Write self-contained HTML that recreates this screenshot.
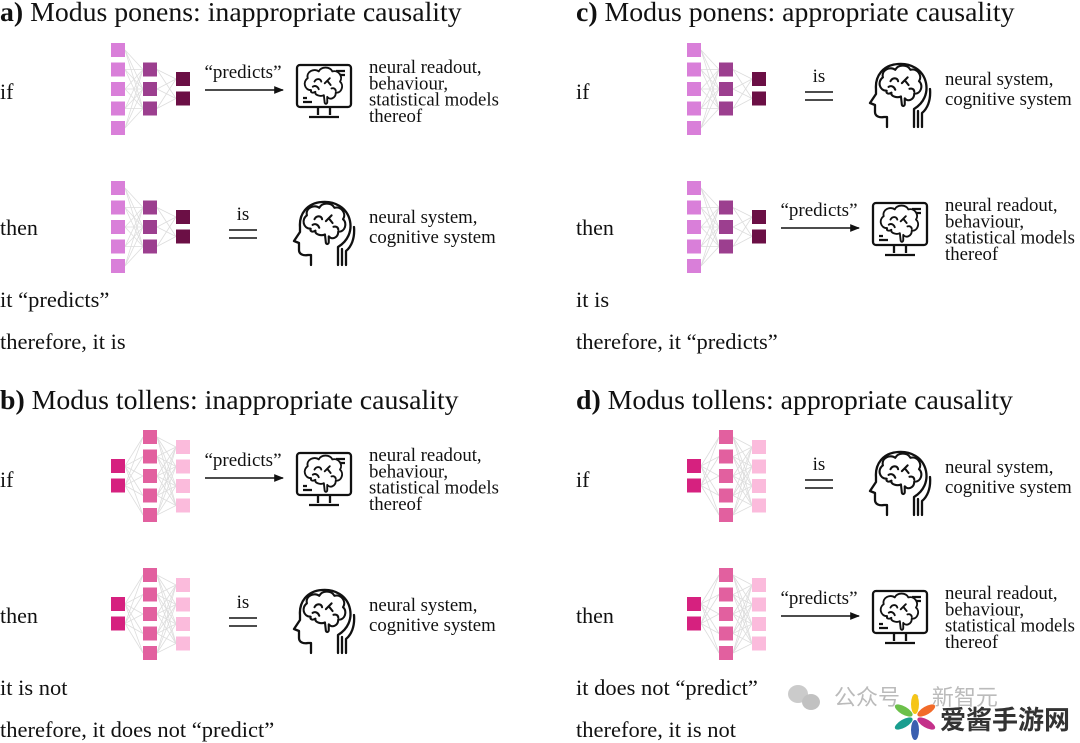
<!DOCTYPE html>
<html><head><meta charset="utf-8">
<style>
html,body{margin:0;padding:0;background:#fff;}
svg{display:block;font-family:"Liberation Serif",serif;}
</style></head>
<body>
<svg id="s" width="1080" height="743" viewBox="0 0 1080 743" xmlns="http://www.w3.org/2000/svg">
<defs>
<marker id="ar" viewBox="0 0 10 10" refX="9" refY="5" markerWidth="7" markerHeight="7" orient="auto"><path d="M0,1 L10,5 L0,9 z" fill="#111"/></marker>
<g id="brain" fill="none" stroke="#111" stroke-width="2.2" stroke-linecap="round" stroke-linejoin="round">
<path d="M-14,6 C-22,6 -24,-4 -18,-8 C-20,-16 -10,-20 -5,-16 C-2,-22 8,-22 11,-16 C18,-18 24,-10 20,-4 C25,0 22,10 15,9 C15,16 8,18 5,14 L5,20 C5,22 3,23 2,21 L1,12 C-3,14 -10,12 -9,8 C-12,10 -15,9 -14,6 Z"/>
<path d="M-10,-4 C-8,-8 -3,-8 -2,-4 M2,-2 L8,-8 M5,-5 L9,0 M-12,2 C-9,0 -6,2 -5,5 M10,4 C13,3 15,5 15,7"/>
</g>
<g id="monitor" fill="none" stroke="#111" stroke-width="2.3" stroke-linejoin="round">
<rect x="-27" y="-27" width="54" height="42" rx="3"/>
<path d="M-6,15 L-6,23 M6,15 L6,23 M-15,25 L15,25"/>
<path d="M12,-21 L21,-21 M16,-17 L21,-17 M-21,6 L-17,6 M-21,10 L-12,10"/>
<use href="#brain" transform="translate(-1,-7) scale(0.85)"/>
</g>
<g id="head" fill="none" stroke="#111" stroke-width="2.3" stroke-linejoin="round" stroke-linecap="round">
<path d="M14,32 L14,14 C24,8 28,-2 26,-12 C23,-26 10,-32 -2,-31 C-17,-30 -25,-19 -24,-6 L-24,-1 L-30,8 L-25,10 L-25,17 C-25,21 -21,23 -16,22 L-13,22 L-13,32"/>
<path d="M18,32 L18,16 M22,32 L22,18 C27,14 31,6 30,-6"/>
<use href="#brain" transform="translate(0,-10) scale(0.95)"/>
</g>
</defs>
<g id="root"></g>
</svg>
<script>
let h='';
function T(x,y,s,size,extra){h+=`<text x="${x}" y="${y}" font-size="${size}" fill="#111" ${extra||''}>${s}</text>`;}
function sq(x,y,c){h+=`<rect x="${x}" y="${y}" width="14" height="14" fill="${c}"/>`;}
function net(layers){
  for(let i=0;i<layers.length-1;i++){
    const A=layers[i],B=layers[i+1];
    for(const a of A.ys)for(const b of B.ys)
      h+=`<line x1="${A.x+14}" y1="${a+7}" x2="${B.x}" y2="${b+7}" stroke="#ddd" stroke-width="0.8"/>`;
  }
  for(const L of layers)for(const y of L.ys)sq(L.x,y,L.c);
}
function row(ox,oy,layers,mode){
  net(layers.map(l=>({x:l.x+ox,ys:l.ys.map(y=>y+oy),c:l.c})));
  if(mode==='p'){
    T(ox+243,oy+78,'“predicts”',19,'text-anchor="middle"');
    h+=`<line x1="${ox+205}" y1="${oy+90}" x2="${ox+283}" y2="${oy+90}" stroke="#111" stroke-width="1.4" marker-end="url(#ar)"/>`;
    h+=`<use href="#monitor" transform="translate(${ox+324},${oy+92})"/>`;
    ['neural readout,','behaviour,','statistical models','thereof'].forEach((s,i)=>T(ox+369,oy+73+i*16.3,s,18.8));
  } else {
    T(ox+243,oy+82,'is',19,'text-anchor="middle"');
    h+=`<line x1="${ox+229}" y1="${oy+92}" x2="${ox+257}" y2="${oy+92}" stroke="#111" stroke-width="1.4"/>`;
    h+=`<line x1="${ox+229}" y1="${oy+100}" x2="${ox+257}" y2="${oy+100}" stroke="#111" stroke-width="1.4"/>`;
    h+=`<use href="#head" transform="translate(${ox+324},${oy+95})"/>`;
    T(ox+369,oy+85,'neural system,',18.8);T(ox+369,oy+105,'cognitive system',18.8);
  }
}
const ponens=[{x:111,ys:[0,19.5,39,58.5,78],c:'#d97fd9'},{x:143,ys:[19.5,39,58.5],c:'#9c3f8f'},{x:176,ys:[29,48.5],c:'#6b0f45'}];
const tollens=[{x:111,ys:[29,48.5],c:'#d6217f'},{x:143,ys:[0,19.5,39,58.5,78],c:'#e2609f'},{x:176,ys:[10,29.5,49,68.5],c:'#fbbbdc'}];
function build(ox,oy,letter,title,net_,m1,m2,l1,l2,netTop){
  T(ox,oy+21,`<tspan font-weight="bold">${letter})</tspan> ${title}`,27.8);
  T(ox,oy+99,'if',22);
  T(ox,oy+235,'then',22);
  const nl=net_.map(l=>({x:l.x,ys:l.ys.map(y=>y+netTop),c:l.c}));
  row(ox,oy,nl,m1);
  row(ox,oy+138,nl,m2);
  T(ox,oy+307,l1,22.5);
  T(ox,oy+349,l2,22.5);
}
build(0,0,'a','Modus ponens: inappropriate causality',ponens,'p','i','it “predicts”','therefore, it is',43);
build(576,0,'c','Modus ponens: appropriate causality',ponens,'i','p','it is','therefore, it “predicts”',43);
build(0,388,'b','Modus tollens: inappropriate causality',tollens,'p','i','it is not','therefore, it does not “predict”',42);
build(576,388,'d','Modus tollens: appropriate causality',tollens,'i','p','it does not “predict”','therefore, it is not',42);
// watermark
h+=`<g opacity="0.6"><ellipse cx="798" cy="694" rx="10" ry="9" fill="#aaa"/><ellipse cx="811" cy="702" rx="9" ry="8" fill="#999"/></g>`;
h+=`<text x="834" y="705" font-size="22" fill="#bbb" font-family="Noto Sans CJK SC,sans-serif">公众号 · 新智元</text>`;
const cols=['#f5c518','#f26b2a','#c4318a','#3a5fb0','#1a9e8f','#6cc04a'];
for(let i=0;i<6;i++){h+=`<ellipse cx="915" cy="704" rx="4" ry="10" fill="${cols[i]}" transform="rotate(${i*60} 915 717)"/>`;}
h+=`<text x="940" y="729" font-size="26" font-weight="bold" fill="#333" font-family="Noto Sans CJK SC,sans-serif">爱酱手游网</text>`;
document.getElementById('root').innerHTML=h;
</script>
</body></html>
